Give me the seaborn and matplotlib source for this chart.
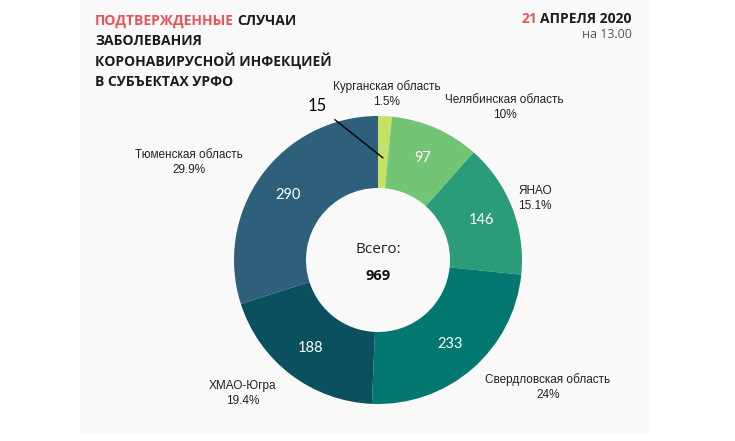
import numpy as np
import matplotlib
matplotlib.use('Agg')
import matplotlib.pyplot as plt
import seaborn as sns
from matplotlib.patches import Rectangle

# данные
regions = ['Курганская область', 'Челябинская область', 'ЯНАО',
           'Свердловская область', 'ХМАО-Югра', 'Тюменская область']
cases = [15, 97, 146, 233, 188, 290]
shares = ['1.5%', '10%', '15.1%', '24%', '19.4%', '29.9%']
total = 969
colors = ['#c6e163', '#74c476', '#2a9c79', '#037870', '#0b505f', '#2e607b']

# позиции подписей снаружи (в единицах радиуса)
label_pos = [(0.06, 1.15), (0.88, 1.06), (1.09, 0.43),
             (1.18, -0.88), (-0.94, -0.93), (-1.31, 0.68)]

sns.set_theme(style='white')
plt.rcParams['font.family'] = ['Open Sans', 'DejaVu Sans']

W, H = 735, 441
fig = plt.figure(figsize=(W / 100, H / 100), dpi=100)
fig.patch.set_facecolor('white')

bg = fig.add_axes([0, 0, 1, 1], zorder=0)
bg.set_axis_off()
bg.set_xlim(0, W)
bg.set_ylim(H, 0)
bg.add_patch(Rectangle((80, 0), 568, 433, color='#f9f9f9', zorder=0))

# заголовок
red = '#e8535a'
dark = '#1c1c1c'
tfont = dict(fontsize=10, fontweight='bold', family=['Open Sans', 'DejaVu Sans'])
t1 = bg.text(95, 24.5, 'ПОДТВЕРЖДЕННЫЕ', color=red, va='baseline', ha='left', **tfont)
bg.annotate('СЛУЧАИ', xy=(1, 0), xycoords=t1, xytext=(2, 0), textcoords='offset points',
            va='bottom', ha='left', color=dark, **tfont)
for i, line in enumerate(['ЗАБОЛЕВАНИЯ', 'КОРОНАВИРУСНОЙ ИНФЕКЦИЕЙ', 'В СУБЪЕКТАХ УРФО']):
    bg.text(95, 45 + 20.7 * i, line, color=dark, va='baseline', ha='left', **tfont)

t2 = bg.text(632, 23, 'АПРЕЛЯ 2020', color=dark, va='baseline', ha='right', **tfont)
bg.annotate('21', xy=(0, 0), xycoords=t2, xytext=(-2.5, 0), textcoords='offset points',
            va='bottom', ha='right', color=red, **tfont)
bg.text(632, 38, 'на 13.00', color='#555555', va='baseline', ha='right', fontsize=9)

# кольцевая диаграмма
ax = fig.add_axes([234 / W, 37 / H, 288 / W, 288 / H], zorder=1)
wedges, _ = ax.pie(cases, colors=colors, startangle=90, counterclock=False,
                   radius=1, wedgeprops=dict(width=0.5, edgecolor='none'))
ax.set_xlim(-1, 1)
ax.set_ylim(-1, 1)
ax.set_aspect('equal')
ax.set_axis_off()

for w, val, name, pct, pos in zip(wedges, cases, regions, shares, label_pos):
    mid = np.deg2rad((w.theta1 + w.theta2) / 2)
    if val > 50:
        ax.text(0.77 * np.cos(mid), 0.77 * np.sin(mid), str(val), color='white',
                ha='center', va='center', fontsize=10.5, family=['Lato', 'DejaVu Sans'])
    else:
        ax.annotate(str(val), xy=(0.71 * np.cos(mid), 0.71 * np.sin(mid)),
                    xytext=(-0.42, 1.07), ha='center', va='center', fontsize=12,
                    family=['Lato', 'DejaVu Sans'], color='black',
                    arrowprops=dict(arrowstyle='-', color='black', lw=1,
                                    shrinkA=4, shrinkB=0))
    ax.text(pos[0], pos[1], name + '\n' + pct, ha='center', va='center',
            fontsize=8.5, linespacing=1.35, color='#222222',
            family=['Liberation Sans', 'DejaVu Sans'])

ax.text(0, 0.07, 'Всего:', ha='center', va='center', fontsize=11, color='#222222')
ax.text(0, -0.11, str(total), ha='center', va='center', fontsize=10.5,
        fontweight='bold', color='#111111')

fig.savefig('out.png', dpi=100)
